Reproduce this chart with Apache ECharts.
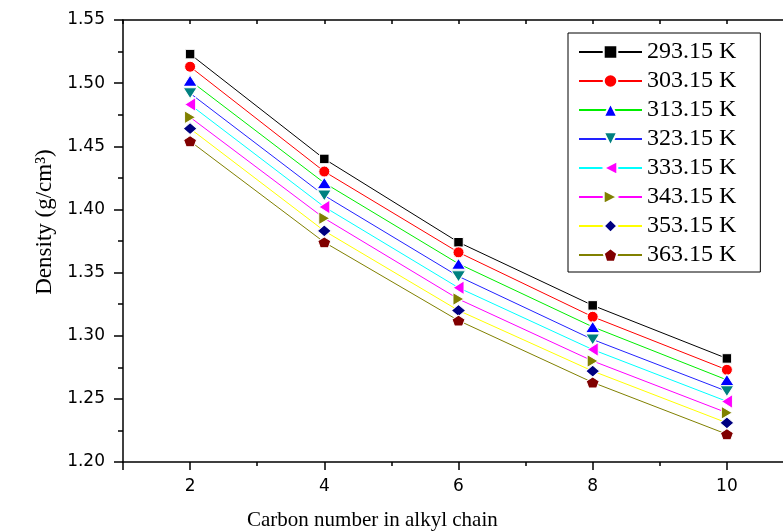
<!DOCTYPE html>
<html>
<head>
<meta charset="utf-8">
<script src="https://cdn.jsdelivr.net/npm/echarts@6/dist/echarts.min.js"></script>
<style>html,body{margin:0;padding:0;background:#fff}#c{width:783px;height:531px}</style>
</head>
<body>
<div id="c"></div>
<script>
const carbonNumbers = [2, 4, 6, 8, 10];
const temperatures = ['293.15 K', '303.15 K', '313.15 K', '323.15 K', '333.15 K', '343.15 K', '353.15 K', '363.15 K'];
const d293 = [1.523, 1.440, 1.374, 1.324, 1.282];
const d303 = [1.513, 1.430, 1.366, 1.315, 1.273];
const d313 = [1.502, 1.421, 1.357, 1.307, 1.265];
const d323 = [1.492, 1.411, 1.347, 1.297, 1.256];
const d333 = [1.483, 1.402, 1.338, 1.289, 1.248];
const d343 = [1.473, 1.393, 1.329, 1.280, 1.239];
const d353 = [1.464, 1.383, 1.320, 1.272, 1.231];
const d363 = [1.454, 1.374, 1.312, 1.263, 1.222];
const densities = [d293, d303, d313, d323, d333, d343, d353, d363];

const lineColors = ['#000000', '#ff0000', '#00ee00', '#2222ff', '#00ffff', '#ff00ff', '#ffff00', '#808000'];
const markerColors = ['#000000', '#ff0000', '#0000ff', '#008080', '#ff00ff', '#808000', '#000080', '#800000'];
const symbols = [
  'rect', 'circle', 'triangle',
  'path://M0,0 L10,0 L5,10 Z',
  'path://M10,0 L10,10 L0,5 Z',
  'path://M0,0 L10,5 L0,10 Z',
  'diamond',
  'path://M95.1,0 L190.2,69.1 L153.9,180.9 L36.3,180.9 L0,69.1 Z'
];
const symbolSizes = [[9.5, 9.5], [11, 11], [14, 11], [14, 11], [11, 14], [11, 13], [14, 12], [13, 11]];

const axisLineStyle = {color: '#000', width: 1.5};

const series = temperatures.map((name, i) => ({
  name: name,
  type: 'line',
  data: carbonNumbers.map((x, j) => [x, densities[i][j]]),
  symbol: symbols[i],
  symbolSize: symbolSizes[i],
  showSymbol: true,
  lineStyle: {color: lineColors[i], width: 1},
  itemStyle: {color: markerColors[i], borderColor: '#fff', borderWidth: 1},
  emphasis: {disabled: true},
  z: 2 + i
}));

const chart = echarts.init(document.getElementById('c'), null, {renderer: 'canvas'});
chart.setOption({
  backgroundColor: '#fff',
  animation: false,
  title: {
    text: 'Carbon number in alkyl chain',
    left: 247, top: 510, padding: 0,
    textStyle: {fontFamily: 'Liberation Serif', fontSize: 21, fontWeight: 'normal', color: '#000'}
  },
  grid: {left: 123, top: 20, right: -11, bottom: 69, containLabel: false, outerBoundsMode: 'none'},
  legend: {
    orient: 'vertical',
    left: 568, top: 33,
    padding: [7, 24, 5, 10],
    borderColor: '#000', borderWidth: 1,
    itemWidth: 63, itemHeight: 17, itemGap: 5,
    selectedMode: false,
    textStyle: {fontFamily: 'Liberation Serif', fontSize: 24, color: '#000'},
    data: temperatures
  },
  xAxis: [
    {
      type: 'value', min: 1, max: 11, position: 'bottom',
      axisLine: {show: true, lineStyle: axisLineStyle},
      axisTick: {show: true, length: 8, lineStyle: axisLineStyle},
      axisLabel: {formatter: v => (v === 1 || v === 11) ? '' : String(v), fontFamily: 'DejaVu Sans', fontSize: 17, color: '#000', margin: 16},
      splitLine: {show: false}
    },
    {
      type: 'value', min: 1, max: 11, interval: 1, position: 'bottom',
      axisLine: {show: false},
      axisTick: {show: true, length: 4, lineStyle: axisLineStyle},
      axisLabel: {show: false},
      splitLine: {show: false}
    },
    {
      type: 'value', min: 1, max: 11, interval: 1, position: 'top',
      axisLine: {show: true, lineStyle: axisLineStyle},
      axisTick: {show: true, inside: true, length: 4, lineStyle: axisLineStyle},
      axisLabel: {show: false},
      splitLine: {show: false}
    }
  ],
  yAxis: [{
    type: 'value', min: 1.2, max: 1.55, interval: 0.05,
    axisLine: {show: true, lineStyle: axisLineStyle},
    axisTick: {show: true, length: 9, lineStyle: axisLineStyle},
    minorTick: {show: true, splitNumber: 2, length: 5, lineStyle: axisLineStyle},
    axisLabel: {formatter: v => v.toFixed(2), fontFamily: 'DejaVu Sans', fontSize: 17, color: '#000', margin: 18},
    splitLine: {show: false},
    minorSplitLine: {show: false},
    name: 'Density (g/cm³)',
    nameLocation: 'middle', nameGap: 66, nameRotate: 90,
    nameTextStyle: {fontFamily: 'Liberation Serif', fontSize: 23, color: '#000', padding: [0, 0, 0, 38]}
  }],
  series: series
});
</script>
</body>
</html>
